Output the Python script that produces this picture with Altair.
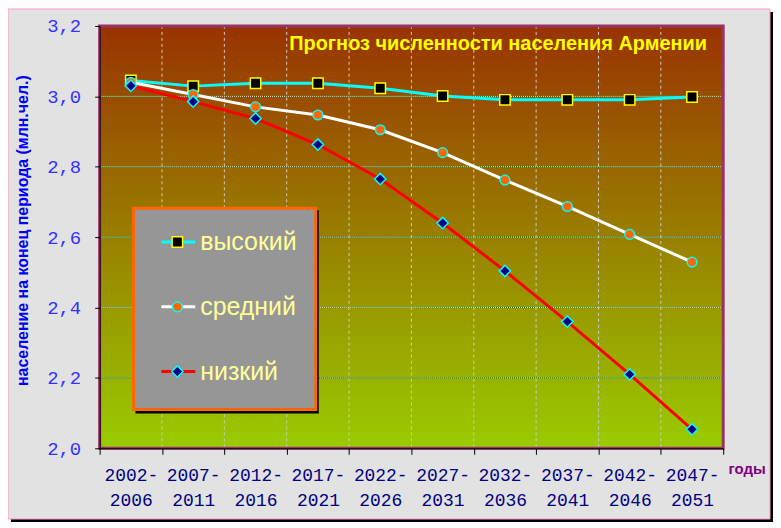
import altair as alt
import pandas as pd

# ---------------- data ----------------
periods = ["2002-2006", "2007-2011", "2012-2016", "2017-2021", "2022-2026",
           "2027-2031", "2032-2036", "2037-2041", "2042-2046", "2047-2051"]
high = [3.045, 3.029, 3.037, 3.037, 3.023, 3.001, 2.990, 2.990, 2.990, 2.998]
medium = [3.040, 3.005, 2.970, 2.947, 2.905, 2.840, 2.762, 2.687, 2.608, 2.529]
low = [3.030, 2.985, 2.937, 2.863, 2.765, 2.640, 2.504, 2.360, 2.210, 2.054]
series_names = ["высокий", "средний", "низкий"]
y_ticks = [2.0, 2.2, 2.4, 2.6, 2.8, 3.0, 3.2]
title_text = "Прогноз численности населения Армении"
y_title = "население на конец периода (млн.чел.)"
x_title = "годы"

# ---------------- layout ----------------
W, H = 626, 424
PL, PT = 92, 17
CW, CH = 768, 515

df = pd.DataFrame({
    "period": periods * 3,
    "series": [s for s in series_names for _ in periods],
    "value": high + medium + low,
})

styles = {
    "высокий": dict(line="#00ffff", shape="square", fill="#000000", stroke="#ffff00", size=110),
    "средний": dict(line="#ffffff", shape="circle", fill="#ff6600", stroke="#00ffff", size=95),
    "низкий": dict(line="#ff0000", shape="diamond", fill="#000080", stroke="#00ffff", size=130),
}

xscale = alt.Scale(type="band", domain=periods, paddingInner=0, paddingOuter=0)
yscale = alt.Scale(domain=[2.0, 3.2], nice=False, zero=False)

xaxis = alt.Axis(
    title=None, labelAngle=0, labelOverlap=False,
    labelExpr="[substring(datum.label, 0, 5), substring(datum.label, 5)]",
    labelFont="Liberation Mono", labelFontSize=18, labelColor="#000080",
    labelLineHeight=25, labelPadding=12, tickBand="extent", tickSize=6,
    tickColor="black", domainColor="black", grid=False, zindex=1,
)
yaxis = alt.Axis(
    values=y_ticks, labelExpr="replace(format(datum.value, '.1f'), '.', ',')",
    labelFont="Liberation Mono", labelFontSize=19, labelColor="#3333ff",
    labelPadding=14, tickSize=5, tickColor="black", domainColor="black",
    grid=False, zindex=1, title=y_title, titleFont="Liberation Sans",
    titleFontSize=16, titleFontWeight="bold", titleColor="#0000ff",
    titleAngle=270, titleAlign="center", titleBaseline="bottom",
    titleX=-69, titleY=205,
)

X = lambda **kw: alt.X("period:N", scale=xscale, axis=xaxis, **kw)
Y = lambda: alt.Y("value:Q", scale=yscale, axis=yaxis)

one = alt.Data(values=[{"a": 1}])


def box(x1, x2, y1, y2, **kw):
    return alt.Chart(one).mark_rect(**kw).encode(
        x=alt.value(x1), x2=alt.value(x2), y=alt.value(y1), y2=alt.value(y2))


layers = []
# chart area shadow + panel
layers.append(box(-PL + 3, CW - PL, -PT + 3, CH - PT, fill="#000000"))
layers.append(box(-PL, CW - PL - 3, -PT, CH - PT - 3, fill="#e2e2e2",
                  stroke="#ff99cc", strokeWidth=1))
# plot gradient
grad = alt.LinearGradient(
    gradient="linear", x1=0, x2=0, y1=0, y2=1,
    stops=[alt.GradientStop(color="#993300", offset=0),
           alt.GradientStop(color="#99cc00", offset=1)])
layers.append(box(0, W, 0, H, fill=grad))

# gridlines
ygrid = pd.DataFrame({"value": y_ticks[1:-1]})
layers.append(alt.Chart(ygrid).mark_rule(color="#006600", strokeWidth=1).encode(y=Y()))
layers.append(alt.Chart(ygrid).mark_rule(color="#ffffff", strokeWidth=1,
                                         strokeDash=[1, 1]).encode(y=Y()))
xgrid = pd.DataFrame({"period": periods[1:]})
layers.append(alt.Chart(xgrid).mark_rule(color="#cccccc", strokeWidth=1,
                                         strokeDash=[3, 3]).encode(x=X(bandPosition=0)))

# plot border
layers.append(box(0, W, 0, H, fill=None, stroke="#993366", strokeWidth=3))

# series
for s in series_names:
    st = styles[s]
    sub = df[df.series == s]
    layers.append(alt.Chart(sub).mark_line(color=st["line"], strokeWidth=3).encode(x=X(), y=Y()))
    layers.append(alt.Chart(sub).mark_point(
        shape=st["shape"], filled=True, fill=st["fill"], stroke=st["stroke"],
        strokeWidth=1.5, size=st["size"], opacity=1).encode(x=X(), y=Y()))

# title
layers.append(alt.Chart(one).mark_text(
    text=title_text, font="Liberation Sans", fontSize=20, fontWeight="bold",
    color="#ffff00", align="center", baseline="middle").encode(
    x=alt.value(400), y=alt.value(18)))

# x title
layers.append(alt.Chart(one).mark_text(
    text=x_title, font="Liberation Sans", fontSize=15, fontWeight="bold",
    color="#800080", align="center", baseline="middle").encode(
    x=alt.value(650), y=alt.value(445)))

# legend
layers.append(box(36, 220, 185, 389, fill="#000000"))
layers.append(box(34, 217, 183, 385, fill="#969696", stroke="#ff6600", strokeWidth=3))
row_y = [217, 282, 347]
for i, s in enumerate(series_names):
    st = styles[s]
    yy = row_y[i]
    layers.append(alt.Chart(one).mark_rule(color=st["line"], strokeWidth=3).encode(
        x=alt.value(62), x2=alt.value(96), y=alt.value(yy)))
    layers.append(alt.Chart(one).mark_point(
        shape=st["shape"], filled=True, fill=st["fill"], stroke=st["stroke"],
        strokeWidth=1.5, size=st["size"], opacity=1).encode(
        x=alt.value(78), y=alt.value(yy)))
    layers.append(alt.Chart(alt.Data(values=[{"label": s}])).mark_text(
        font="Liberation Sans", fontSize=25,
        color="#ffff99", align="left", baseline="middle").encode(
        x=alt.value(101), y=alt.value(yy), text="label:N"))

chart = alt.layer(*layers).properties(
    width=W, height=H,
    padding={"left": PL, "top": PT, "right": CW - PL - W, "bottom": CH - PT - H},
    autosize=alt.AutoSizeParams(type="none"),
    background="#ffffff",
).configure_view(stroke=None)

chart.save("out.html", embed_options={"renderer": "svg", "actions": False})
